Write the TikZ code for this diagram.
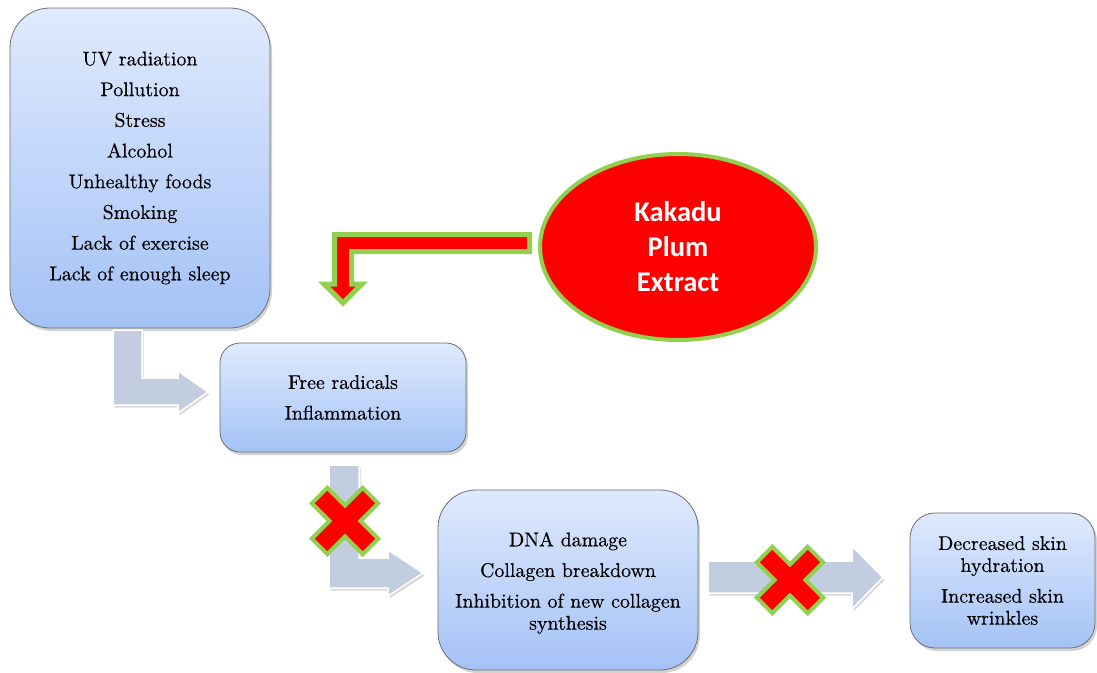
\documentclass[tikz,border=0pt]{standalone}
\usepackage{fontspec}
\newfontfamily\lmr{lmroman10-regular}[Extension=.otf, FakeBold=0.4]
\newfontfamily\calib{Carlito}
\usetikzlibrary{shapes.geometric,shadows}
\definecolor{boxtop}{RGB}{223,234,253}
\definecolor{boxbot}{RGB}{164,194,246}
\definecolor{boxline}{RGB}{110,110,110}
\definecolor{arrowgray}{RGB}{195,205,224}
\definecolor{xgreen}{RGB}{146,208,80}
\definecolor{xred}{RGB}{255,0,0}
\tikzset{
  redx/.pic={
    \draw[xred fill] (11,11) -- (36,11) -- (36,-11) -- (11,-11) -- (11,-36) -- (-11,-36) -- (-11,-11) -- (-36,-11) -- (-36,11) -- (-11,11) -- (-11,36) -- (11,36) -- cycle;
  },
  xred fill/.style={fill=xred, draw=xgreen, line width=4pt, line join=miter},
}
\begin{document}
\begin{tikzpicture}[x=1pt,y=-1pt,
  box/.style={draw=boxline, line width=0.8pt, top color=boxtop, bottom color=boxbot,
    align=center, inner sep=0pt, font=\lmr\fontsize{19.9}{22}\selectfont,
    drop shadow={shadow xshift=2pt, shadow yshift=-3pt, opacity=0.35}},
  garrow/.style={fill=arrowgray, draw=white, line width=1.5pt, line join=miter,
    drop shadow={shadow xshift=1.5pt, shadow yshift=-2.5pt, opacity=0.3}},
  redarrow/.style={fill=xred, draw=xgreen, line width=5pt, line join=miter},
  ]
\fill[white] (0,0) rectangle (1097,672);
\useasboundingbox (0,0) rectangle (1097,672);

% boxes
\node[box, rounded corners=40pt, minimum width=260pt, minimum height=320pt] (causes) at (140,168)
  {UV radiation\\[8.7pt] Pollution\\[8.7pt] Stress\\[8.7pt] Alcohol\\[8.7pt] Unhealthy foods\\[8.7pt] Smoking\\[8.7pt] Lack of exercise\\[8.7pt] Lack of enough sleep};
\node[box, rounded corners=20pt, minimum width=246pt, minimum height=109pt] (radicals) at (343,397.5)
  {Free radicals\\[8.7pt] Inflammation};
\node[box, rounded corners=38pt, minimum width=260pt, minimum height=180pt] (damage) at (568,580)
  {\rule{0pt}{20pt}DNA damage\\[8.7pt] Collagen breakdown\\[8.7pt] Inhibition of new collagen\\ synthesis};
\node[box, rounded corners=25pt, minimum width=185pt, minimum height=135pt] (skin) at (1002.5,580.5)
  {Decreased skin\\ hydration\\[8.7pt] Increased skin\\ wrinkles};

% Kakadu
\node[ellipse, fill=xred, draw=xgreen, line width=4pt, minimum width=276pt, minimum height=186pt,
  text=white, align=center, font=\calib\bfseries\fontsize{28.5}{35}\selectfont] (kakadu) at (678,247)
  {Kakadu\\Plum\\Extract};

% block arrows
\draw[garrow] (113,330) -- (142,330) -- (142,378) -- (178,378) -- (178,371) -- (208,392) -- (178,413) -- (178,405) -- (113,405) -- cycle;
\draw[garrow] (329,465) -- (359,465) -- (359,558) -- (388,558) -- (388,550) -- (423,573) -- (388,596) -- (388,588) -- (329,588) -- cycle;
\draw[garrow] (708,561) -- (852,561) -- (852,546) -- (883,577.5) -- (852,609) -- (852,593) -- (708,593) -- cycle;

% red bent arrow from Kakadu
\draw[redarrow] (529.5,234.5) -- (334.5,234.5) -- (334.5,284) -- (324,284) -- (343,303) -- (362,284) -- (351.5,284) -- (351.5,251.5) -- (529.5,251.5) -- cycle;

% red crosses
\pic[rotate=45] at (345,521) {redx};
\pic[rotate=45] at (790,580) {redx};
\end{tikzpicture}
\end{document}
